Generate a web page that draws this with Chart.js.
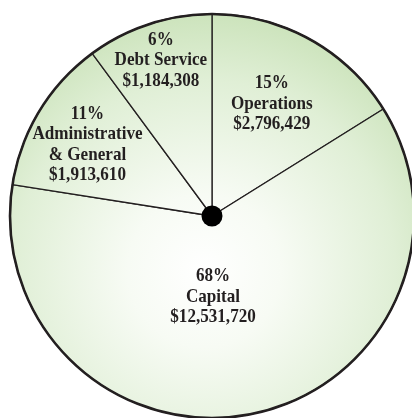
<!DOCTYPE html>
<html>
<head>
<meta charset="utf-8">
<script src="https://cdn.jsdelivr.net/npm/chart.js@4.4.1/dist/chart.umd.min.js"></script>
<style>
html,body{margin:0;padding:0;background:#fff;}
#wrap{width:412px;height:418px;}
</style>
</head>
<body>
<div id="wrap"><canvas id="chart" width="412" height="418"></canvas></div>
<script>
// slices in drawing order, clockwise from 12 o'clock
const categories = ['Operations', 'Capital', 'Administrative\n& General', 'Debt Service'];
const percentLabels = ['15%', '68%', '11%', '6%'];
const amountLabels = ['$2,796,429', '$12,531,720', '$1,913,610', '$1,184,308'];
// share of the circle each slice takes in the picture (drawing is not to scale)
const sliceShares = [16.1, 61.3, 12.4, 10.1];

// label placement: fraction of radius, angle nudge in degrees
const labelPlace = [
  {r:0.63, da:-1},
  {r:0.40, da:10.8},
  {r:0.71, da:-1.5},
  {r:0.81, da:0}
];

function fillGradient(ctx){
  const chart = ctx.chart;
  const a = chart.chartArea;
  if(!a) return '#e6f2de';
  const cx = (a.left + a.right)/2, cy = (a.top + a.bottom)/2;
  const g = chart.ctx.createRadialGradient(cx-8, cy+55, 0, cx-8, cy+55, 255);
  g.addColorStop(0, '#ffffff');
  g.addColorStop(0.3, '#f7fbf4');
  g.addColorStop(0.75, '#e0efd6');
  g.addColorStop(1, '#cde4bd');
  return g;
}

const piePlugin = {
  id:'pieDecor',
  afterDatasetsDraw(chart){
    const ctx = chart.ctx;
    const arcs = chart.getDatasetMeta(0).data;
    if(!arcs.length) return;
    const cx = arcs[0].x, cy = arcs[0].y, R = arcs[0].outerRadius;
    ctx.save();
    // outer rim
    ctx.beginPath();
    ctx.arc(cx, cy, R, 0, Math.PI*2);
    ctx.lineWidth = 2.6;
    ctx.strokeStyle = '#231f20';
    ctx.stroke();
    // hub
    ctx.beginPath();
    ctx.arc(cx, cy, 10.5, 0, Math.PI*2);
    ctx.fillStyle = '#000';
    ctx.fill();
    // labels, slightly condensed to imitate the narrow serif of the original
    ctx.fillStyle = '#231f20';
    ctx.font = 'bold 19px "Liberation Serif", "Times New Roman", serif';
    ctx.textAlign = 'center';
    ctx.textBaseline = 'middle';
    const lh = 20.5, sx = 0.9;
    arcs.forEach((arc, i)=>{
      const p = labelPlace[i];
      const mid = (arc.startAngle + arc.endAngle)/2 + p.da*Math.PI/180;
      const x = cx + Math.cos(mid)*R*p.r;
      const y = cy + Math.sin(mid)*R*p.r;
      const lines = [percentLabels[i]].concat(categories[i].split('\n'), [amountLabels[i]]);
      const y0 = y - (lines.length-1)*lh/2;
      lines.forEach((t, k)=>{
        ctx.save();
        ctx.translate(x, y0 + k*lh);
        ctx.scale(sx, 1);
        ctx.fillText(t, 0, 0);
        ctx.restore();
      });
    });
    ctx.restore();
  }
};

new Chart(document.getElementById('chart').getContext('2d'), {
  type:'pie',
  data:{
    labels: categories,
    datasets:[{
      data: sliceShares,
      backgroundColor: fillGradient,
      borderColor:'#231f20',
      borderWidth:1.3,
      clip:false
    }]
  },
  options:{
    responsive:false,
    animation:false,
    devicePixelRatio:1,
    radius:202,
    layout:{padding:{left:12, right:0, top:14, bottom:0}},
    plugins:{legend:{display:false}, tooltip:{enabled:false}}
  },
  plugins:[piePlugin]
});
</script>
</body>
</html>
